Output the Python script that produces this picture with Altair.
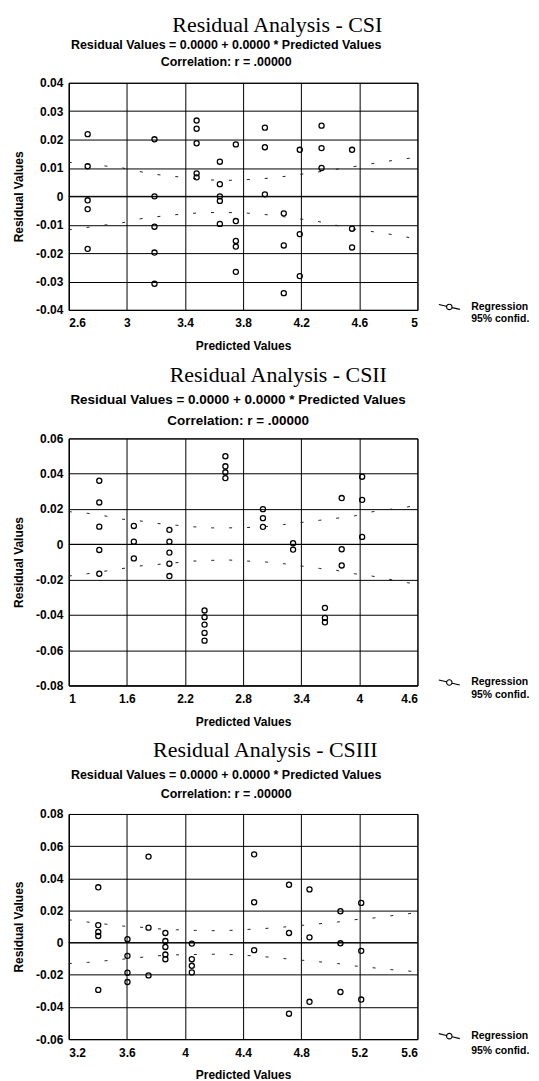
import altair as alt
import pandas as pd

# ---------------- text ----------------
MAIN_TITLES = ["Residual Analysis - CSI", "Residual Analysis - CSII", "Residual Analysis - CSIII"]
SUB_LINE1 = "Residual Values = 0.0000 + 0.0000 * Predicted Values"
SUB_LINE2 = "Correlation: r = .00000"
X_TITLE = "Predicted Values"
Y_TITLE = "Residual Values"
LEGEND_LABELS = ["Regression", "95% confid."]

# ---------------- panel 1 (CSI) ----------------
p1_pred = [2.73] * 5 + [3.19] * 5 + [3.48] * 5 + [3.64] * 5 + [3.75] * 5 + [3.95] * 3 + [4.08] * 3 + [4.19] * 3 + [4.34] * 3 + [4.55] * 3
p1_resid = [0.0219, 0.0106, -0.0014, -0.0045, -0.0185,
            0.0201, 0.0, -0.0107, -0.0198, -0.0308,
            0.0267, 0.0238, 0.0187, 0.0081, 0.0067,
            0.0122, 0.0043, 0.0, -0.0016, -0.0097,
            0.0183, -0.0087, -0.0157, -0.0177, -0.0266,
            0.0242, 0.0173, 0.0007,
            -0.006, -0.0173, -0.0341,
            0.0164, -0.0133, -0.0281,
            0.0249, 0.017, 0.010,
            0.0164, -0.0114, -0.018]
p1_up_x = [2.6, 2.85, 2.97, 3.08, 3.2, 3.33, 3.44, 3.56, 3.68, 3.8, 3.93, 4.04, 4.17, 4.29, 4.53, 4.77, 5.0]
p1_up_y = [0.0120, 0.0107, 0.0100, 0.0088, 0.0077, 0.0070, 0.0064, 0.0058, 0.0056, 0.0058, 0.0062, 0.0067, 0.0076, 0.0084, 0.0102, 0.0122, 0.0138]
p1_lo_x = [2.6, 2.97, 3.08, 3.2, 3.33, 3.44, 3.56, 3.68, 3.8, 3.93, 4.04, 4.17, 4.29, 4.41, 4.53, 4.77, 5.0]
p1_lo_y = [-0.0118, -0.0093, -0.0080, -0.0072, -0.0065, -0.0060, -0.0057, -0.0057, -0.0058, -0.0063, -0.0069, -0.0078, -0.0086, -0.0098, -0.0113, -0.0130, -0.0150]
p1_x_dom = [2.6, 5]
p1_x_ticks = [2.6, 3, 3.4, 3.8, 4.2, 4.6, 5]
p1_y_dom = [-0.04, 0.04]
p1_y_ticks = [-0.04, -0.03, -0.02, -0.01, 0, 0.01, 0.02, 0.03, 0.04]

# ---------------- panel 2 (CSII) ----------------
p2_pred = [1.315] * 5 + [1.672] * 3 + [2.039] * 5 + [2.402] * 5 + [2.617] * 4 + [3.005] * 3 + [3.316] * 2 + [3.645] * 3 + [3.818] * 3 + [4.029] * 3
p2_resid = [0.036, 0.0237, 0.010, -0.0032, -0.0167,
            0.0104, 0.0015, -0.008,
            0.0082, 0.0015, -0.0047, -0.011, -0.018,
            -0.0375, -0.0413, -0.0455, -0.0502, -0.0546,
            0.0499, 0.0442, 0.0408, 0.0375,
            0.0199, 0.0148, 0.0099,
            0.0006, -0.003,
            -0.036, -0.0417, -0.0442,
            0.0262, -0.0028, -0.012,
            0.0383, 0.0252, 0.0042]
p2_up_x = [1.0, 1.19, 1.37, 1.56, 1.73, 1.92, 2.11, 2.29, 2.48, 2.65, 2.84, 3.03, 3.22, 3.59, 3.77, 3.95, 4.13, 4.5, 4.6]
p2_up_y = [0.0185, 0.0176, 0.0161, 0.0142, 0.0133, 0.0118, 0.0108, 0.0099, 0.0093, 0.0093, 0.0095, 0.0100, 0.0112, 0.0136, 0.0148, 0.0161, 0.0184, 0.0212, 0.0222]
p2_lo_x = [1.0, 1.19, 1.56, 1.73, 1.92, 2.29, 2.48, 2.65, 2.84, 3.03, 3.22, 3.4, 3.59, 3.77, 3.95, 4.13, 4.5, 4.6]
p2_lo_y = [-0.0180, -0.0167, -0.0137, -0.0123, -0.0114, -0.0095, -0.0091, -0.0089, -0.0095, -0.0100, -0.0110, -0.0123, -0.0137, -0.0148, -0.0167, -0.0180, -0.0218, -0.0225]
p2_x_dom = [1, 4.6]
p2_x_ticks = [1, 1.6, 2.2, 2.8, 3.4, 4, 4.6]
p2_y_dom = [-0.08, 0.06]
p2_y_ticks = [-0.08, -0.06, -0.04, -0.02, 0, 0.02, 0.04, 0.06]

# ---------------- panel 3 (CSIII) ----------------
p3_pred = [3.403] * 5 + [3.604] * 4 + [3.749] * 3 + [3.865] * 5 + [4.047] * 4 + [4.476] * 3 + [4.716] * 3 + [4.857] * 3 + [5.07] * 3 + [5.213] * 3
p3_resid = [0.0344, 0.0109, 0.0066, 0.0041, -0.0294,
            0.0021, -0.0082, -0.0187, -0.0245,
            0.0535, 0.0093, -0.0204,
            0.006, 0.001, -0.0027, -0.0074, -0.0103,
            -0.0006, -0.0103, -0.0144, -0.0185,
            0.0549, 0.0251, -0.0047,
            0.036, 0.006, -0.0442,
            0.0331, 0.0033, -0.0368,
            0.0195, -0.0004, -0.0307,
            0.0247, -0.0051, -0.0354]
p3_up_x = [3.2, 3.33, 3.57, 3.68, 3.81, 3.94, 4.07, 4.18, 4.31, 4.43, 4.55, 4.68, 4.8, 4.92, 5.05, 5.16, 5.29, 5.4, 5.53, 5.6]
p3_up_y = [0.0142, 0.0128, 0.0103, 0.0097, 0.0086, 0.0080, 0.0076, 0.0074, 0.0076, 0.0082, 0.0088, 0.0097, 0.0107, 0.0117, 0.0128, 0.0142, 0.0152, 0.0165, 0.0179, 0.0186]
p3_lo_x = [3.2, 3.33, 3.45, 3.57, 3.68, 3.81, 3.94, 4.18, 4.31, 4.43, 4.55, 4.68, 4.8, 4.92, 5.05, 5.16, 5.29, 5.4, 5.53, 5.6]
p3_lo_y = [-0.0130, -0.0123, -0.0113, -0.0103, -0.0093, -0.0082, -0.0076, -0.0072, -0.0074, -0.0080, -0.0088, -0.0099, -0.0109, -0.0119, -0.0130, -0.0144, -0.0156, -0.0167, -0.0175, -0.0185]
p3_x_dom = [3.2, 5.6]
p3_x_ticks = [3.2, 3.6, 4, 4.4, 4.8, 5.2, 5.6]
p3_y_dom = [-0.06, 0.08]
p3_y_ticks = [-0.06, -0.04, -0.02, 0, 0.02, 0.04, 0.06, 0.08]

# legend symbols (SVG paths, scaled by sqrt(size)/2)
REG_SYMBOL = ("M-2.1,-0.5L-0.58,-0.14M0.58,0.14L2.1,0.5"
              "M-0.55,0A0.55,0.55 0 1,0 0.55,0A0.55,0.55 0 1,0 -0.55,0Z")
CONF_SYMBOL = "M0,0"

PLOT_W = 350
SANS = "Liberation Sans"
SERIF = "Liberation Serif"


def make_panel(pred, resid, ux, uy, lx, ly, xdom, xticks, ydom, yticks, h, main_title,
               main_dx, main_offset, sub_size, sub_lh, sub_dx, sub_offset, leg_dy, leg_rp):
    pts = pd.DataFrame({"pred": pred, "resid": resid})
    band = pd.DataFrame({
        "pred": ux + lx,
        "resid": uy + ly,
        "side": ["upper"] * len(ux) + ["lower"] * len(lx),
    })
    reg = pd.DataFrame({"pred": xdom, "resid": [0.0, 0.0]})
    leg = pd.DataFrame({"series": LEGEND_LABELS})

    xs = alt.Scale(domain=xdom, nice=False, zero=False)
    ys = alt.Scale(domain=ydom, nice=False, zero=False)
    xax = alt.Axis(values=xticks, tickCount=30, title=X_TITLE, labelExpr="'' + datum.value",
                   labelPadding=8, titlePadding=12, labelOverlap=False)
    yax = alt.Axis(values=yticks, tickCount=30, title=Y_TITLE, labelExpr="'' + datum.value",
                   labelPadding=6, titlePadding=10, labelOverlap=False)

    band_layer = alt.Chart(band).mark_line(
        color="#222", strokeWidth=1, strokeDash=[3, 15]
    ).encode(
        x=alt.X("pred:Q", scale=xs, axis=xax),
        y=alt.Y("resid:Q", scale=ys, axis=yax),
        detail="side:N",
    )
    reg_layer = alt.Chart(reg).mark_line(color="black", strokeWidth=1).encode(
        x=alt.X("pred:Q", scale=xs),
        y=alt.Y("resid:Q", scale=ys),
    )
    pt_layer = alt.Chart(pts).mark_point(
        shape="circle", filled=False, color="black", strokeWidth=1.3, size=26, opacity=1
    ).encode(
        x=alt.X("pred:Q", scale=xs),
        y=alt.Y("resid:Q", scale=ys),
    )
    leg_layer = alt.Chart(leg).mark_point(filled=False, color="black", opacity=0).encode(
        shape=alt.Shape(
            "series:N",
            scale=alt.Scale(domain=LEGEND_LABELS, range=[REG_SYMBOL, CONF_SYMBOL]),
            legend=alt.Legend(
                title=None, orient="none", legendX=PLOT_W + 26, legendY=h + leg_dy,
                symbolOpacity=1, symbolSize=100, symbolStrokeColor="black",
                symbolFillColor="transparent", symbolStrokeWidth=1.1,
                labelFont=SANS, labelFontSize=10.5, labelFontWeight="bold",
                labelColor="black", labelOffset=16, rowPadding=leg_rp, padding=0,
            ),
        )
    )

    layer = alt.layer(band_layer, reg_layer, pt_layer, leg_layer).properties(
        width=PLOT_W, height=h,
        title=alt.TitleParams(
            text=[SUB_LINE1, SUB_LINE2], font=SANS, fontSize=sub_size, fontWeight="bold",
            lineHeight=sub_lh, anchor="middle", frame="group", dx=sub_dx,
            offset=sub_offset, color="black",
        ),
    )
    return alt.vconcat(
        layer,
        spacing=0,
        title=alt.TitleParams(
            text=main_title, font=SERIF, fontSize=22, fontWeight="normal",
            anchor="middle", dx=main_dx, offset=main_offset, color="black",
        ),
    ).resolve_scale(shape="independent").resolve_legend(shape="independent")


panel1 = make_panel(p1_pred, p1_resid, p1_up_x, p1_up_y, p1_lo_x, p1_lo_y,
                    p1_x_dom, p1_x_ticks, p1_y_dom, p1_y_ticks, 228, MAIN_TITLES[0],
                    main_dx=6, main_offset=2, sub_size=12.5, sub_lh=17, sub_dx=-17,
                    sub_offset=8, leg_dy=-9, leg_rp=0)
panel2 = make_panel(p2_pred, p2_resid, p2_up_x, p2_up_y, p2_lo_x, p2_lo_y,
                    p2_x_dom, p2_x_ticks, p2_y_dom, p2_y_ticks, 248, MAIN_TITLES[1],
                    main_dx=7, main_offset=6, sub_size=13.5, sub_lh=21, sub_dx=-5,
                    sub_offset=5, leg_dy=-9, leg_rp=1)
panel3 = make_panel(p3_pred, p3_resid, p3_up_x, p3_up_y, p3_lo_x, p3_lo_y,
                    p3_x_dom, p3_x_ticks, p3_y_dom, p3_y_ticks, 226, MAIN_TITLES[2],
                    main_dx=-6, main_offset=6, sub_size=12.5, sub_lh=19, sub_dx=-17,
                    sub_offset=8, leg_dy=-9, leg_rp=3)

chart = alt.vconcat(panel1, panel2, panel3, spacing=11).resolve_scale(
    shape="independent"
).resolve_legend(
    shape="independent"
).properties(
    padding={"left": 4, "top": 4, "right": 0, "bottom": 0},
    background="white",
).configure_axis(
    labelFont=SANS, labelFontSize=12, labelFontWeight="bold", labelColor="black",
    titleFont=SANS, titleFontSize=12, titleFontWeight="bold", titleColor="black",
    domainColor="black", domainWidth=1, gridColor="black", gridOpacity=1, gridWidth=1,
    tickSize=0, grid=True,
).configure_view(
    stroke="black", strokeWidth=1,
)

chart.save("out.html", embed_options={"renderer": "svg", "actions": False})
